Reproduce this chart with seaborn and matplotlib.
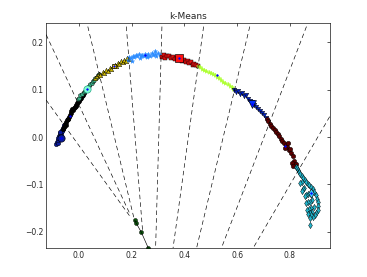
import numpy as np
import pandas as pd
import matplotlib
matplotlib.use('Agg')
import matplotlib.pyplot as plt
import seaborn as sns

# cluster points (x, y), one block per cluster
navy_x = [-0.085, -0.083, -0.080, -0.078, -0.076, -0.075, -0.073, -0.071, -0.070, -0.068, -0.066, -0.065, -0.063, -0.061, -0.060, -0.058, -0.056, -0.079, -0.072]
navy_y = [-0.015, -0.010, -0.012, -0.006, -0.003, 0.002, -0.001, 0.004, 0.008, 0.006, 0.011, 0.014, 0.012, 0.018, 0.020, 0.023, 0.026, -0.001, 0.010]

black_x = [-0.060, -0.056, -0.052, -0.048, -0.045, -0.042, -0.038, -0.035, -0.031, -0.028, -0.024, -0.020, -0.016, -0.012, -0.008, -0.004, 0.000, 0.004, 0.008, 0.012, 0.016, 0.020, -0.050, -0.040, -0.026, -0.010]
black_y = [0.016, 0.022, 0.027, 0.031, 0.035, 0.039, 0.043, 0.047, 0.051, 0.054, 0.058, 0.061, 0.064, 0.068, 0.071, 0.074, 0.077, 0.080, 0.083, 0.086, 0.089, 0.093, 0.025, 0.038, 0.059, 0.066]

teal_x = [-0.005, 0.000, 0.006, 0.012, 0.018, 0.022, 0.026, 0.030, 0.034, 0.038, 0.043, 0.048, 0.053, 0.058, 0.063, 0.068, 0.073, 0.078]
teal_y = [0.080, 0.083, 0.088, 0.091, 0.095, 0.097, 0.100, 0.103, 0.106, 0.108, 0.112, 0.115, 0.119, 0.121, 0.125, 0.127, 0.131, 0.133]

olive_x = [0.060, 0.068, 0.075, 0.082, 0.090, 0.097, 0.104, 0.110, 0.117, 0.123, 0.130, 0.136, 0.142, 0.148, 0.154, 0.160, 0.166, 0.172, 0.178, 0.184, 0.190]
olive_y = [0.124, 0.128, 0.133, 0.130, 0.138, 0.136, 0.142, 0.140, 0.146, 0.144, 0.150, 0.152, 0.149, 0.156, 0.154, 0.160, 0.158, 0.163, 0.161, 0.166, 0.164]

sky_x = [0.186, 0.192, 0.198, 0.204, 0.210, 0.216, 0.222, 0.228, 0.234, 0.240, 0.246, 0.252, 0.258, 0.264, 0.270, 0.276, 0.282, 0.288, 0.294, 0.300, 0.306, 0.200, 0.230, 0.260, 0.290]
sky_y = [0.163, 0.168, 0.166, 0.171, 0.168, 0.173, 0.170, 0.175, 0.170, 0.174, 0.171, 0.176, 0.172, 0.175, 0.170, 0.177, 0.173, 0.176, 0.172, 0.178, 0.174, 0.161, 0.166, 0.168, 0.181]

red_x = [0.315, 0.322, 0.328, 0.335, 0.342, 0.350, 0.358, 0.366, 0.372, 0.385, 0.392, 0.398, 0.405, 0.412, 0.418, 0.425, 0.432, 0.438, 0.445, 0.450]
red_y = [0.168, 0.174, 0.166, 0.172, 0.170, 0.167, 0.169, 0.164, 0.167, 0.165, 0.160, 0.163, 0.158, 0.161, 0.156, 0.158, 0.153, 0.155, 0.151, 0.149]

lime_x = [0.452, 0.460, 0.468, 0.476, 0.484, 0.492, 0.500, 0.508, 0.516, 0.524, 0.532, 0.540, 0.548, 0.556, 0.564, 0.572, 0.580, 0.586]
lime_y = [0.150, 0.147, 0.144, 0.142, 0.139, 0.137, 0.136, 0.132, 0.130, 0.127, 0.124, 0.120, 0.117, 0.114, 0.112, 0.108, 0.105, 0.101]

blue_x = [0.588, 0.596, 0.602, 0.610, 0.617, 0.625, 0.632, 0.640, 0.648, 0.655, 0.663, 0.670, 0.678, 0.686, 0.694, 0.702, 0.710]
blue_y = [0.100, 0.095, 0.098, 0.090, 0.093, 0.086, 0.088, 0.080, 0.077, 0.073, 0.068, 0.064, 0.060, 0.055, 0.050, 0.046, 0.040]

maroon_x = [0.712, 0.718, 0.724, 0.730, 0.736, 0.742, 0.748, 0.754, 0.760, 0.766, 0.772, 0.778, 0.784, 0.790, 0.795, 0.800, 0.806, 0.812, 0.816, 0.822, 0.808, 0.812, 0.780, 0.792]
maroon_y = [0.038, 0.034, 0.028, 0.024, 0.020, 0.015, 0.010, 0.006, 0.002, -0.004, -0.008, -0.012, -0.016, -0.022, -0.028, -0.026, -0.034, -0.040, -0.050, -0.056, -0.054, -0.062, -0.024, -0.012]

cyan_x = [0.822, 0.826, 0.830, 0.835, 0.840, 0.845, 0.850, 0.856, 0.862, 0.868, 0.874, 0.880, 0.886, 0.892, 0.898, 0.903, 0.906, 0.907, 0.905, 0.900, 0.895, 0.888,
          0.845, 0.840, 0.855, 0.850, 0.845, 0.870, 0.862, 0.856, 0.885, 0.876, 0.868, 0.862, 0.890, 0.880, 0.872, 0.865, 0.885, 0.876, 0.870, 0.880, 0.875, 0.878]
cyan_y = [-0.063, -0.066, -0.070, -0.074, -0.078, -0.082, -0.086, -0.090, -0.094, -0.098, -0.102, -0.106, -0.110, -0.116, -0.122, -0.130, -0.138, -0.146, -0.154, -0.160, -0.165, -0.168,
          -0.095, -0.097, -0.108, -0.110, -0.113, -0.120, -0.122, -0.125, -0.133, -0.136, -0.138, -0.140, -0.148, -0.150, -0.152, -0.154, -0.158, -0.160, -0.162, -0.165, -0.170, -0.185]

green_x = [0.212, 0.218, 0.237, 0.264, 0.280]
green_y = [-0.175, -0.182, -0.201, -0.235, -0.256]

# small centroid dots
cent_x = [-0.069, -0.033, 0.032, 0.133, 0.249, 0.378, 0.524, 0.657, 0.783, 0.879]
cent_y = [-0.001, 0.045, 0.102, 0.149, 0.173, 0.166, 0.130, 0.070, -0.019, -0.119]

# big centroid markers
big_x = [-0.069, 0.032, 0.133, 0.378, 0.657, 0.879]
big_y = [-0.001, 0.102, 0.149, 0.166, 0.070, -0.119]

# dashed boundaries: (x0, y0) -> (x1, y1)
bound_x0 = [-0.124, -0.124, 0.034, 0.180, 0.315, 0.473, 0.648, 0.863, 0.951]
bound_y0 = [0.216, 0.078, 0.233, 0.233, 0.233, 0.233, 0.233, 0.233, 0.043]
bound_x1 = [0.196, 0.196, 0.208, 0.242, 0.291, 0.357, 0.446, 0.540, 0.660]
bound_y1 = [-0.165, -0.169, -0.169, -0.200, -0.235, -0.235, -0.235, -0.235, -0.235]

sns.set_style('white')
plt.rcParams['font.family'] = ['DejaVu Sans']
plt.rcParams['xtick.direction'] = 'in'
plt.rcParams['ytick.direction'] = 'in'

fig = plt.figure(figsize=(367 / 46, 277 / 46), dpi=46)
ax = fig.add_axes([0.125, 0.103, 0.774, 0.813])

for x0, y0, x1, y1 in zip(bound_x0, bound_y0, bound_x1, bound_y1):
    ax.plot([x0, x1], [y0, y1], color='k', ls=(0, (7, 5)), lw=1)

clusters = [
    (navy_x, navy_y, '#0a1a9c', 'o', 'k'),
    (black_x, black_y, '#000000', 'o', 'k'),
    (teal_x, teal_y, '#3cb38a', 'p', 'k'),
    (olive_x, olive_y, '#c8b400', '^', 'k'),
    (sky_x, sky_y, '#2b8cff', '*', '#2b8cff'),
    (red_x, red_y, '#e81010', 's', 'k'),
    (lime_x, lime_y, '#adff2f', '*', '#adff2f'),
    (blue_x, blue_y, '#0020c0', 'v', 'k'),
    (maroon_x, maroon_y, '#5a0000', 'o', 'k'),
    (cyan_x, cyan_y, '#22b5cc', 'd', 'k'),
]
for xs, ys, col, mk, ec in clusters:
    df = pd.DataFrame({'x': xs, 'y': ys})
    sns.scatterplot(data=df, x='x', y='y', color=col, marker=mk, s=48,
                    edgecolor=ec, linewidth=0.7, ax=ax)

ax.plot(green_x, green_y, 'k-', lw=1)
sns.scatterplot(x=green_x, y=green_y, color='#0a5a0a', marker='o', s=40,
                edgecolor='k', linewidth=0.7, ax=ax)

big_style = [('#0a1a9c', 'o', 130, 'k'), ('#7fffd4', 'o', 130, '#20a080'), ('#ffe000', 's', 60, 'k'),
             ('#ff1010', 's', 150, 'k'), ('#0030ff', 'v', 150, 'k'), ('#40d0ff', 'd', 110, 'k')]
for bx, by, (col, mk, sz, ec) in zip(big_x, big_y, big_style):
    ax.scatter([bx], [by], color=col, marker=mk, s=sz, edgecolor=ec, linewidth=1, zorder=4)

ax.plot(cent_x, cent_y, 'b.', ms=5, zorder=5)

ax.set_xlim(-0.125, 0.952)
ax.set_ylim(-0.235, 0.240)
ax.set_xticks([0.0, 0.2, 0.4, 0.6, 0.8])
ax.set_yticks([-0.2, -0.1, 0.0, 0.1, 0.2])
ax.set_xlabel('')
ax.set_ylabel('')
ax.tick_params(axis='both', which='major', labelsize=12, length=4, width=1,
               top=True, right=True, color='k')
for sp in ax.spines.values():
    sp.set_color('k')
    sp.set_linewidth(1)
ax.set_title('k-Means', fontsize=14)

fig.savefig('out.png', dpi=46)
